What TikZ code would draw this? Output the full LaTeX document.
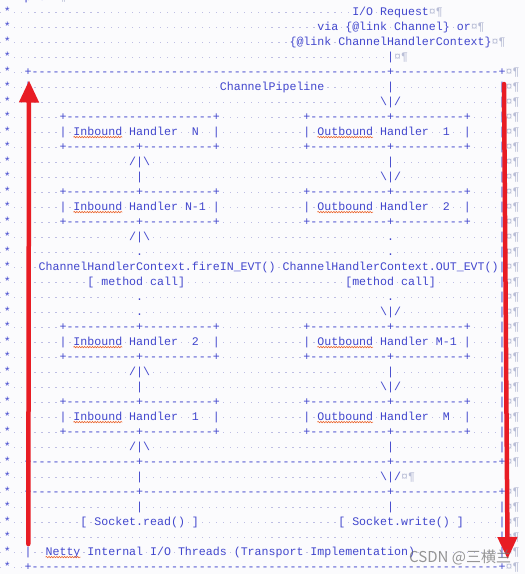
\documentclass[tikz,border=0pt]{standalone}
\usepackage{fontspec}
\usetikzlibrary{arrows.meta,decorations.pathmorphing}
\newfontfamily\codefont{Liberation Mono}
\newfontfamily\cjkfont{Noto Sans CJK SC}
\definecolor{txt}{RGB}{65,70,205}
\definecolor{dotc}{RGB}{190,190,228}
\definecolor{pilc}{RGB}{185,190,215}
\definecolor{bgc}{RGB}{251,251,253}
\definecolor{arrred}{RGB}{232,28,36}
\definecolor{squigc}{RGB}{235,100,45}
\newlength\cw
\setlength\cw{6.970pt}
\newcommand\codesize{\codefont\fontsize{11.615pt}{15pt}\selectfont}
\newcommand\dt{\hbox to \cw{\hss\textcolor{dotc}{\rule[2.9pt]{1.3pt}{1.3pt}}\hss}}
\ExplSyntaxOn
\NewDocumentCommand\dts{m}{\prg_replicate:nn{#1}{\dt}}
\NewDocumentCommand\dsh{m}{\prg_replicate:nn{#1}{-\kern0pt}}
\ExplSyntaxOff
\newcommand\Lpre{\dt*\dt\dt}
\newcommand\pil{\textcolor{pilc}{¤¶}}
\newcommand\lbx{+\dsh{10}+\dsh{10}+}
\newcommand\rbx{+\dsh{11}+\dsh{10}+}
\newcommand\boxrow{\Lpre|\dts{4}\lbx\dts{12}\rbx\dts{4}|\pil}
\newcommand\upr{\Lpre|\dts{14}/|\textbackslash\dts{34}|\dts{15}|\pil}
\newcommand\dnr{\Lpre|\dts{15}|\dts{34}\textbackslash|/\dts{14}|\pil}
\newcommand\dashrow{\Lpre+\dsh{15}+\dsh{35}+\dsh{15}+\pil}
\newcommand\codeln[2]{\node[codeline] (l#1) at (-3.19,{0.8+15*#1}) {#2};}
\tikzset{
  codeline/.style={anchor=base west,inner sep=0pt,outer sep=0pt,text=txt,font=\codesize},
  redarr/.style={draw=arrred,line width=4.5pt,line cap=round,-{Triangle[width=19pt,length=22pt]}},
  squig/.style={draw=squigc,line width=0.6pt,decorate,decoration={snake,amplitude=0.7pt,segment length=2.6pt}}
}
\begin{document}
\begin{tikzpicture}[x=1pt,y=-1pt]
\fill[bgc] (0,0) rectangle (525,574);
\useasboundingbox (0,0) rectangle (525,574);
\codeln{0}{\dt*\dt<pre>\pil}
\codeln{1}{\dt*\dts{49}I/O\dt Request\pil}
\codeln{2}{\dt*\dts{44}via\dt\{@link\dt Channel\}\dt or\pil}
\codeln{3}{\dt*\dts{40}\{@link\dt ChannelHandlerContext\}\pil}
\codeln{4}{\dt*\dts{54}|\pil}
\codeln{5}{\Lpre+\dsh{51}+\dsh{15}+\pil}
\codeln{6}{\Lpre|\dts{27}ChannelPipeline\dts{9}|\dts{15}|\pil}
\codeln{7}{\Lpre|\dts{50}\textbackslash|/\dts{14}|\pil}
\codeln{8}{\Lpre|\dts{4}+\dsh{21}+\dts{12}\rbx\dts{4}|\pil}
\codeln{9}{\Lpre|\dts{4}|\dt Inbound\dt Handler\dts{2}N\dts{2}|\dts{12}|\dt Outbound\dt Handler\dts{2}1\dts{2}|\dts{4}|\pil}
\codeln{10}{\boxrow}
\codeln{11}{\upr}
\codeln{12}{\dnr}
\codeln{13}{\boxrow}
\codeln{14}{\Lpre|\dts{4}|\dt Inbound\dt Handler\dt N-1\dt|\dts{12}|\dt Outbound\dt Handler\dts{2}2\dts{2}|\dts{4}|\pil}
\codeln{15}{\boxrow}
\codeln{16}{\Lpre|\dts{14}/|\textbackslash\dts{34}.\dts{15}|\pil}
\codeln{17}{\Lpre|\dts{15}.\dts{35}.\dts{15}|\pil}
\codeln{18}{\Lpre|\dt ChannelHandlerContext.fireIN\_EVT()\dt ChannelHandlerContext.OUT\_EVT()|\pil}
\codeln{19}{\Lpre|\dts{8}[\dt method\dt call]\dts{23}[method\dt call]\dts{9}|\pil}
\codeln{20}{\Lpre|\dts{15}.\dts{35}.\dts{15}|\pil}
\codeln{21}{\Lpre|\dts{15}.\dts{34}\textbackslash|/\dts{14}|\pil}
\codeln{22}{\boxrow}
\codeln{23}{\Lpre|\dts{4}|\dt Inbound\dt Handler\dts{2}2\dts{2}|\dts{12}|\dt Outbound\dt Handler\dt M-1\dt|\dts{4}|\pil}
\codeln{24}{\boxrow}
\codeln{25}{\upr}
\codeln{26}{\dnr}
\codeln{27}{\boxrow}
\codeln{28}{\Lpre|\dts{4}|\dt Inbound\dt Handler\dts{2}1\dts{2}|\dts{12}|\dt Outbound\dt Handler\dts{2}M\dts{2}|\dts{4}|\pil}
\codeln{29}{\boxrow}
\codeln{30}{\upr}
\codeln{31}{\dashrow}
\codeln{32}{\dt*\dts{18}|\dts{34}\textbackslash|/\pil}
\codeln{33}{\dashrow}
\codeln{34}{\Lpre|\dts{15}|\dts{35}|\dts{15}|\pil}
\codeln{35}{\Lpre|\dts{7}[\dt Socket.read()\dt]\dts{20}[\dt Socket.write()\dt]\dts{5}|\pil}
\codeln{36}{\Lpre|\dts{67}|\pil}
\codeln{37}{\Lpre|\dts{2}Netty\dt Internal\dt I/O\dt Threads\dt (Transport\dt Implementation)\dts{12}|\pil}
\codeln{38}{\Lpre+\dsh{67}+\pil}
% spell-check squiggles
\foreach \yy in {137.1,212.1,347.1,422.1}{
  \draw[squig] (73.5,\yy) -- (122.3,\yy);
  \draw[squig] (317.4,\yy) -- (373.2,\yy);
}
\draw[squig] (45.6,557.1) -- (80.5,557.1);
% red arrows
\draw[redarr] (28.3,544) -- (29,80.5);
\draw[redarr] (504,84) -- (507.6,559);
% watermark
\node[anchor=base west,inner sep=0pt,text=black!55,opacity=0.75,font=\cjkfont\fontsize{15pt}{15pt}\selectfont] (wm) at (409,562.5) {CSDN @三横兰};
\end{tikzpicture}
\end{document}
